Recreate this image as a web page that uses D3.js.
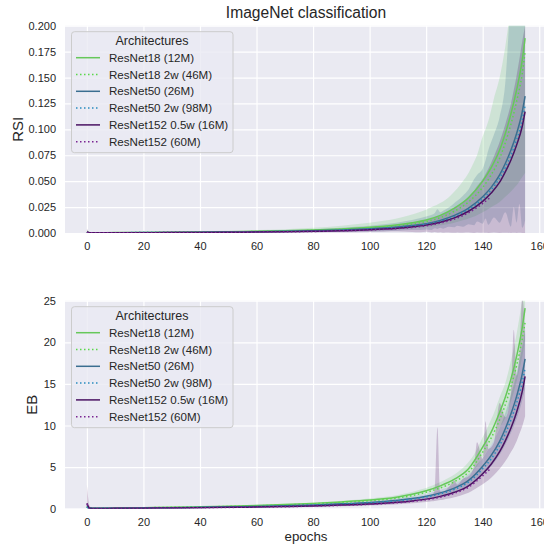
<!DOCTYPE html>
<html>
<head>
<meta charset="utf-8">
<script src="https://cdn.jsdelivr.net/npm/d3@7"></script>
<style>
  body { margin: 0; background: #ffffff; }
  text { font-family: "Liberation Sans", Arial, sans-serif; fill: #262626; }
</style>
</head>
<body>
<svg id="drawing_region"></svg>
<script>
// epochs at which the mean curves were read
const epochs = [0,1,2,5,10,20,30,40,50,60,70,80,90,100,105,110,115,120,125,130,135,140,143,146,148,150,152,154,155];
// finer grid for the confidence bands (they are spiky near the end)
const band_epochs = [0,1,2,5,10,20,30,40,50,60,70,80,90,100,105,110,115,118,120,122,123,124,125,126,128,130,131,133,135,137,138,140,141,142,144,146,148,150,151,152,153,154,155];

const architectures = ['ResNet18 (12M)', 'ResNet18 2w (46M)', 'ResNet50 (26M)', 'ResNet50 2w (98M)', 'ResNet152 0.5w (16M)', 'ResNet152 (60M)'];
const x_ticks = [0,20,40,60,80,100,120,140,160];
const rsi_ticks = [0,0.025,0.05,0.075,0.1,0.125,0.15,0.175,0.2];
const eb_ticks = [0,5,10,15,20,25];

// RSI means
const rsi_r18      = [0.0008,0.0003,0.0003,0.0003,0.0004,0.0005,0.0007,0.0009,0.0012,0.0016,0.0021,0.0028,0.0039,0.0055,0.0066,0.0080,0.0099,0.0125,0.0170,0.0240,0.0340,0.0500,0.0630,0.0800,0.0960,0.1150,0.1380,0.1670,0.1880];
const rsi_r18_2w   = [0.0006,0.0003,0.0003,0.0003,0.0003,0.0004,0.0006,0.0008,0.0011,0.0014,0.0019,0.0025,0.0035,0.0049,0.0058,0.0070,0.0087,0.0110,0.0148,0.0210,0.0300,0.0440,0.0560,0.0720,0.0870,0.1050,0.1270,0.1540,0.1750];
const rsi_r50      = [0.0006,0.0002,0.0002,0.0002,0.0003,0.0004,0.0005,0.0007,0.0009,0.0012,0.0016,0.0021,0.0029,0.0040,0.0048,0.0058,0.0072,0.0090,0.0122,0.0170,0.0240,0.0350,0.0440,0.0560,0.0670,0.0800,0.0960,0.1170,0.1320];
const rsi_r50_2w   = [0.0005,0.0002,0.0002,0.0002,0.0003,0.0004,0.0005,0.0006,0.0008,0.0011,0.0015,0.0019,0.0027,0.0037,0.0044,0.0053,0.0066,0.0083,0.0113,0.0158,0.0225,0.0330,0.0415,0.0530,0.0630,0.0750,0.0900,0.1090,0.1230];
const rsi_r152_half= [0.0010,0.0002,0.0002,0.0002,0.0002,0.0003,0.0004,0.0005,0.0007,0.0009,0.0012,0.0016,0.0022,0.0031,0.0038,0.0047,0.0059,0.0076,0.0104,0.0146,0.0210,0.0305,0.0385,0.0490,0.0590,0.0705,0.0850,0.1030,0.1170];
const rsi_r152     = [0.0008,0.0002,0.0002,0.0002,0.0002,0.0003,0.0004,0.0005,0.0006,0.0008,0.0011,0.0015,0.0021,0.0029,0.0035,0.0043,0.0054,0.0070,0.0096,0.0135,0.0195,0.0285,0.0350,null,null,null,null,null,null];

// RSI bands (on band_epochs)
const rsi_r18_hi = [0.003,0.0008,0.0006,0.0006,0.0007,0.0009,0.0012,0.0016,0.0021,0.0028,0.0037,0.0050,0.0070,0.0098,0.0118,0.0143,0.0178,0.0205,0.0225,0.0250,0.0262,0.0275,0.0290,0.0305,0.0345,0.0400,0.0430,0.0500,0.0580,0.0690,0.0750,0.0930,0.1000,0.1080,0.1300,0.1500,0.1800,0.2200,0.2400,0.2600,0.2800,0.3000,0.3200];
const rsi_r18_lo = [0,0.0001,0.0001,0.0001,0.0002,0.0002,0.0003,0.0004,0.0005,0.0007,0.0009,0.0012,0.0017,0.0024,0.0029,0.0035,0.0044,0.0050,0.0056,0.0062,0.0066,0.0070,0.0074,0.0078,0.0088,0.0100,0.0107,0.0122,0.0140,0.0160,0.0172,0.0200,0.0215,0.0232,0.0265,0.0300,0.0350,0.0400,0.0430,0.0460,0.0500,0.0540,0.0580];
const rsi_r50_hi = [0.002,0.0005,0.0004,0.0004,0.0005,0.0007,0.0009,0.0012,0.0016,0.0021,0.0028,0.0037,0.0051,0.0070,0.0085,0.0102,0.0126,0.0145,0.0160,0.0175,0.0190,0.0230,0.0200,0.0215,0.0245,0.0290,0.0310,0.0360,0.0420,0.0520,0.0560,0.0620,0.0700,0.0800,0.0950,0.1120,0.1450,0.2300,0.2600,0.2800,0.3000,0.3200,0.3300];
const rsi_r50_lo = [0,0.0001,0.0001,0.0001,0.0001,0.0002,0.0002,0.0003,0.0004,0.0005,0.0006,0.0008,0.0011,0.0015,0.0018,0.0022,0.0028,0.0030,0.0034,0.0030,0.0045,0.0038,0.0050,0.0042,0.0060,0.0055,0.0070,0.0060,0.0085,0.0075,0.0110,0.0090,0.0140,0.0080,0.0150,0.0100,0.0200,0.0060,0.0250,0.0100,0.0280,0.0050,0.0120];
const rsi_r152_half_hi = [0.004,0.0005,0.0004,0.0004,0.0004,0.0005,0.0007,0.0009,0.0012,0.0016,0.0021,0.0028,0.0038,0.0053,0.0064,0.0078,0.0098,0.0112,0.0125,0.0140,0.0150,0.0160,0.0170,0.0180,0.0205,0.0240,0.0260,0.0300,0.0350,0.0410,0.0450,0.0520,0.0570,0.0620,0.0740,0.0880,0.1050,0.1250,0.1380,0.1520,0.1680,0.1850,0.2000];
const rsi_r152_half_lo = [0,0,0,0,0,0.0001,0.0001,0.0002,0.0002,0.0003,0.0004,0.0005,0.0007,0.0010,0.0012,0.0014,0.0010,0.0008,0.0012,0.0006,0.0010,0.0004,0.0008,0.0003,0.0005,0.0002,0.0006,0.0002,0.0004,0.0001,0.0005,0.0002,0.0003,0.0001,0.0004,0.0001,0.0002,0.0001,0.0003,0.0001,0.0002,0,0.0001];

// EB means
const eb_r18      = [0.30,0.06,0.05,0.05,0.07,0.12,0.17,0.23,0.30,0.38,0.49,0.64,0.82,1.04,1.20,1.42,1.73,2.16,2.75,3.55,4.80,7.40,9.20,11.6,13.4,15.6,18.3,21.8,24.1];
const eb_r18_2w   = [0.25,0.05,0.05,0.05,0.06,0.11,0.16,0.21,0.28,0.35,0.45,0.59,0.76,0.96,1.10,1.30,1.58,1.97,2.50,3.25,4.40,6.80,8.50,10.7,12.5,14.7,17.2,20.4,22.4];
const eb_r50      = [0.25,0.04,0.04,0.04,0.05,0.08,0.12,0.16,0.21,0.27,0.35,0.45,0.58,0.75,0.87,1.02,1.22,1.50,1.90,2.48,3.40,5.10,6.40,8.10,9.60,11.4,13.5,16.2,18.0];
const eb_r50_2w   = [0.20,0.04,0.04,0.04,0.05,0.08,0.11,0.15,0.20,0.25,0.32,0.42,0.54,0.70,0.81,0.95,1.14,1.40,1.78,2.33,3.20,4.80,6.00,7.60,9.00,10.7,12.7,15.2,16.9];
const eb_r152_half= [0.65,0.05,0.03,0.03,0.04,0.06,0.09,0.12,0.16,0.20,0.26,0.33,0.43,0.56,0.65,0.77,0.93,1.15,1.48,1.97,2.75,4.20,5.35,6.85,8.15,9.70,11.6,14.1,15.9];
const eb_r152     = [0.55,0.05,0.03,0.03,0.04,0.06,0.08,0.11,0.15,0.19,0.24,0.31,0.40,0.52,0.61,0.72,0.87,1.07,1.38,1.85,2.60,3.95,4.90,null,null,null,null,null,null];

// EB bands (on band_epochs)
const eb_r18_hi = [0.6,0.1,0.08,0.08,0.1,0.16,0.22,0.29,0.37,0.46,0.59,0.76,0.97,1.22,1.40,1.65,2.00,2.30,2.50,2.75,2.90,3.05,3.20,3.37,3.72,4.12,4.36,4.90,5.60,6.55,7.15,8.60,9.25,10.0,11.5,13.4,15.1,17.8,19.3,21.0,23.0,25.2,27.5];
const eb_r18_lo = [0.1,0.03,0.03,0.03,0.05,0.09,0.13,0.18,0.24,0.31,0.40,0.52,0.67,0.86,0.99,1.18,1.45,1.66,1.82,2.00,2.10,2.20,2.31,2.44,2.69,2.98,3.15,3.52,4.02,4.70,5.10,6.20,6.65,7.20,8.30,9.75,10.9,12.9,14.0,15.3,16.7,18.3,20.2];
const eb_r50_hi = [0.5,0.08,0.06,0.06,0.07,0.11,0.15,0.2,0.26,0.33,0.42,0.54,0.70,0.90,1.04,1.22,1.46,1.65,1.80,1.98,2.08,2.17,2.28,2.40,2.66,2.98,3.15,3.55,4.10,4.80,5.30,6.10,6.60,7.15,8.30,9.70,11.5,13.7,14.9,16.2,17.8,19.5,21.5];
const eb_r50_lo = [0.05,0.02,0.02,0.02,0.03,0.05,0.09,0.12,0.16,0.21,0.28,0.36,0.46,0.60,0.70,0.82,0.98,1.10,1.20,1.32,1.38,1.45,1.52,1.60,1.78,1.98,2.10,2.36,2.72,3.20,3.52,4.08,4.40,4.76,5.52,6.48,7.68,9.12,9.92,10.8,11.8,13.0,14.4];
const eb_r152_half_hi = [2.85,0.3,0.08,0.05,0.06,0.09,0.12,0.16,0.21,0.26,0.34,0.43,0.56,0.73,0.85,1.0,1.2,1.38,1.50,1.70,2.2,9.8,2.1,2.0,2.6,3.4,2.9,3.6,3.9,5.2,8.0,6.0,10.5,7.2,8.0,12.7,11.0,14.0,21.5,16.0,18.5,25.5,21.0];
const eb_r152_half_lo = [0.1,0.02,0.01,0.01,0.02,0.04,0.06,0.08,0.11,0.14,0.18,0.23,0.30,0.39,0.45,0.54,0.65,0.74,0.80,0.90,0.94,0.99,1.04,1.09,1.22,1.38,1.47,1.68,1.92,2.30,2.52,2.94,3.18,3.43,4.06,4.80,5.70,6.80,7.40,8.10,9.00,9.90,11.1];

const line_colors = ['#66c85a', '#5ad84a', '#3a6e90', '#2a8cc0', '#4a1262', '#7a2592'];
const line_dotted = [false, true, false, true, false, true];
const band_colors = ['#5ec962', '#31688e', '#440154'];

class LinePanel {

    constructor( config, lines, bands ) {
        this.config = {
            parent: config.parent,
            left: config.left,
            top: config.top,
            width: config.width,
            height: config.height,
            ymax: config.ymax,
            yticks: config.yticks,
            ylabel: config.ylabel || '',
            ylabel_x: config.ylabel_x || 18,
            tickformat: config.tickformat || (d => d),
            title: config.title || '',
            xlabel: config.xlabel || '',
        }
        this.lines = lines;
        this.bands = bands;
        this.init();
    }

    init() {
        let self = this;
        let c = self.config;

        self.chart = c.parent.append('g')
            .attr('transform', `translate(${c.left}, ${c.top})`);

        self.xscale = d3.scaleLinear()
            .domain([-7.75, 162.75])
            .range([0, c.width]);

        self.yscale = d3.scaleLinear()
            .domain([0, c.ymax])
            .range([c.height, 0]);

        self.chart.append('rect')
            .attr('width', c.width)
            .attr('height', c.height)
            .attr('fill', '#eaeaf2');

        self.clip_id = 'clip_' + c.ylabel;
        self.chart.append('clipPath')
            .attr('id', self.clip_id)
            .append('rect')
            .attr('width', c.width)
            .attr('height', c.height);

        self.xaxis = d3.axisBottom(self.xscale)
            .tickValues(x_ticks)
            .tickSize(-c.height)
            .tickPadding(9.5);

        self.yaxis = d3.axisLeft(self.yscale)
            .tickValues(c.yticks)
            .tickSize(-c.width)
            .tickPadding(9)
            .tickFormat(c.tickformat);

        self.xaxis_group = self.chart.append('g')
            .attr('transform', `translate(0, ${c.height})`)
            .call(self.xaxis);

        self.yaxis_group = self.chart.append('g')
            .call(self.yaxis);

        [self.xaxis_group, self.yaxis_group].forEach(g => {
            g.select('.domain').remove();
            g.selectAll('line').attr('stroke', '#ffffff').attr('stroke-width', 1.2);
            g.selectAll('text').attr('font-size', '11px').attr('fill', '#262626')
                .style('font-family', '"Liberation Sans", Arial, sans-serif');
        });

        self.plot = self.chart.append('g')
            .attr('clip-path', `url(#${self.clip_id})`);
    }

    render() {
        let self = this;
        let c = self.config;

        const area = d3.area()
            .x(d => self.xscale(d.e))
            .y0(d => self.yscale(d.lo))
            .y1(d => self.yscale(d.hi))
            .curve(d3.curveMonotoneX);

        self.plot.selectAll('.band')
            .data(self.bands)
            .enter()
            .append('path')
            .attr('class', 'band')
            .attr('d', b => area(band_epochs.map((e, i) => ({e: e, lo: b.lo[i], hi: b.hi[i]}))))
            .attr('fill', (b, i) => band_colors[i])
            .attr('fill-opacity', 0.2)
            .attr('stroke', 'none');

        const line = d3.line()
            .defined(d => d.v !== null)
            .x(d => self.xscale(d.e))
            .y(d => self.yscale(d.v))
            .curve(d3.curveMonotoneX);

        self.plot.selectAll('.mean')
            .data(self.lines)
            .enter()
            .append('path')
            .attr('class', 'mean')
            .attr('d', vals => line(epochs.map((e, i) => ({e: e, v: vals[i]}))))
            .attr('fill', 'none')
            .attr('stroke', (d, i) => line_colors[i])
            .attr('stroke-width', 1.5)
            .attr('stroke-dasharray', (d, i) => line_dotted[i] ? '1.5,2.5' : null);

        // legend
        const legend = self.chart.append('g')
            .attr('transform', 'translate(6.5, 6)');

        legend.append('rect')
            .attr('width', 161.5)
            .attr('height', 121)
            .attr('rx', 3)
            .attr('fill', '#eaeaf2')
            .attr('fill-opacity', 0.8)
            .attr('stroke', '#cccccc')
            .attr('stroke-width', 1);

        legend.append('text')
            .attr('x', 80.5)
            .attr('y', 13.5)
            .attr('text-anchor', 'middle')
            .attr('font-size', '12.5px')
            .text('Architectures');

        const items = legend.selectAll('.item')
            .data(architectures)
            .enter()
            .append('g')
            .attr('transform', (d, i) => `translate(0, ${26 + i * 16.8})`);

        items.append('line')
            .attr('x1', 4.5)
            .attr('x2', 28.5)
            .attr('stroke', (d, i) => line_colors[i])
            .attr('stroke-width', 1.5)
            .attr('stroke-dasharray', (d, i) => line_dotted[i] ? '1.5,2.5' : null);

        items.append('text')
            .attr('x', 37.5)
            .attr('dy', '0.36em')
            .attr('font-size', '11.6px')
            .text(d => d);

        self.chart.append('text')
            .attr('transform', `translate(${c.ylabel_x - c.left}, ${c.height / 2}) rotate(-90)`)
            .attr('text-anchor', 'middle')
            .attr('dy', '0.36em')
            .attr('font-size', '15px')
            .text(c.ylabel);

        if (c.title) {
            self.chart.append('text')
                .attr('x', c.width / 2)
                .attr('y', -8)
                .attr('text-anchor', 'middle')
                .attr('font-size', '15.6px')
                .text(c.title);
        }

        if (c.xlabel) {
            self.chart.append('text')
                .attr('x', c.width / 2)
                .attr('y', c.height + 32)
                .attr('text-anchor', 'middle')
                .attr('font-size', '13.3px')
                .text(c.xlabel);
        }
    }
}

const svg = d3.select('#drawing_region')
    .attr('width', 544)
    .attr('height', 545);

svg.append('rect').attr('width', 544).attr('height', 545).attr('fill', '#ffffff');

let rsi_panel = new LinePanel({
    parent: svg, left: 65, top: 25.7, width: 482, height: 207.3,
    ymax: 0.2, yticks: rsi_ticks, ylabel: 'RSI', ylabel_x: 18,
    tickformat: d3.format('.3f'), title: 'ImageNet classification'
}, [rsi_r18, rsi_r18_2w, rsi_r50, rsi_r50_2w, rsi_r152_half, rsi_r152],
   [{lo: rsi_r18_lo, hi: rsi_r18_hi}, {lo: rsi_r50_lo, hi: rsi_r50_hi}, {lo: rsi_r152_half_lo, hi: rsi_r152_half_hi}]);
rsi_panel.render();

let eb_panel = new LinePanel({
    parent: svg, left: 65, top: 300.7, width: 482, height: 208,
    ymax: 25, yticks: eb_ticks, ylabel: 'EB', ylabel_x: 32,
    tickformat: d3.format('d'), xlabel: 'epochs'
}, [eb_r18, eb_r18_2w, eb_r50, eb_r50_2w, eb_r152_half, eb_r152],
   [{lo: eb_r18_lo, hi: eb_r18_hi}, {lo: eb_r50_lo, hi: eb_r50_hi}, {lo: eb_r152_half_lo, hi: eb_r152_half_hi}]);
eb_panel.render();
</script>
</body>
</html>
